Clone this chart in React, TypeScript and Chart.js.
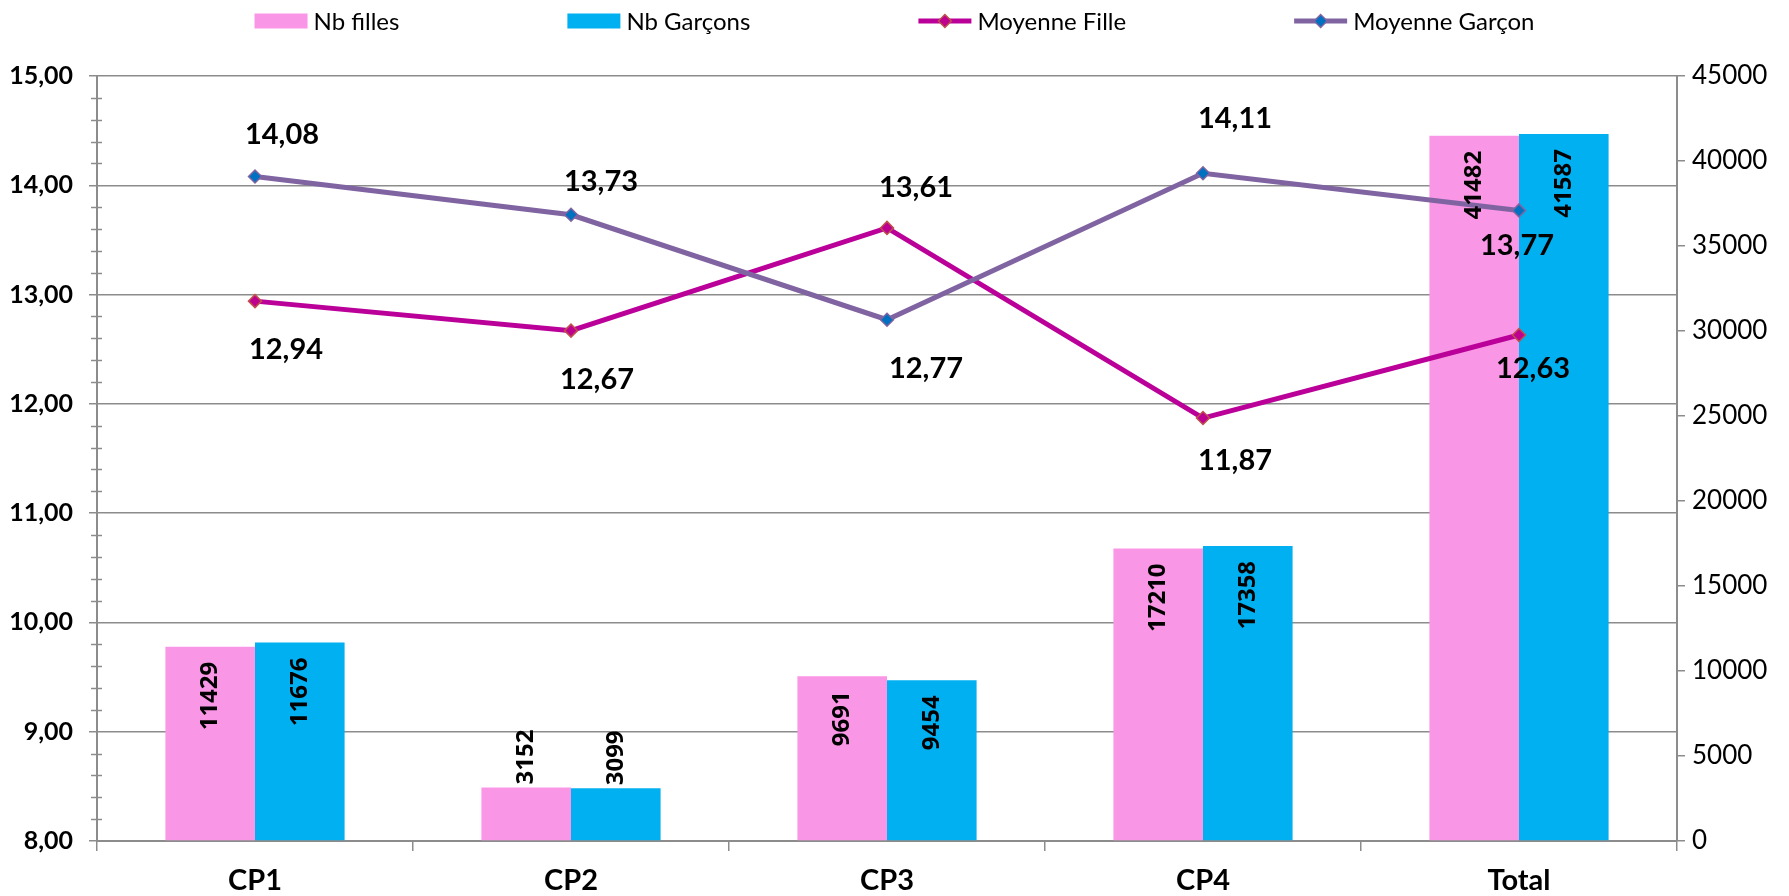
import React, { useEffect, useRef } from 'react';
import { Chart, registerables } from 'chart.js';

Chart.register(...registerables);

// ---- data ----
const categories = ['CP1', 'CP2', 'CP3', 'CP4', 'Total'];
const nbFilles = [11429, 3152, 9691, 17210, 41482];
const nbGarcons = [11676, 3099, 9454, 17358, 41587];
const moyenneFille = [12.94, 12.67, 13.61, 11.87, 12.63];
const moyenneGarcon = [14.08, 13.73, 12.77, 14.11, 13.77];
const leftAxisTicks = [8, 9, 10, 11, 12, 13, 14, 15];
const rightAxisTicks = [0, 5000, 10000, 15000, 20000, 25000, 30000, 35000, 40000, 45000];

// ---- label placement (layout only, pixel offsets from the point) ----
const filleLabelOffsets = [[31, 49], [26, 49], [29, -40], [32, 43], [14, 34]];
const garconLabelOffsets = [[27, -42], [30, -33], [39, 49], [32, -55], [-2, 35]];

const PINK = '#FA96E6';
const BLUE = '#00B0F0';
const MAGENTA = '#BA0099';
const PURPLE = '#8064A2';
const GRID = '#8C8C8C';
const FONT = 'Lato, "Liberation Sans", sans-serif';
const BAR_FONT = '"Noto Sans", "DejaVu Sans", sans-serif';

const fmtComma = (v: number) => v.toFixed(2).replace('.', ',');

const minorTicksPlugin = {
  id: 'minorTicks',
  afterDraw(chart: any) {
    const s = chart.scales.y;
    const ctx = chart.ctx;
    ctx.save();
    ctx.strokeStyle = GRID;
    ctx.lineWidth = 1.5;
    const min = leftAxisTicks[0];
    const max = leftAxisTicks[leftAxisTicks.length - 1];
    for (let i = 0; i <= (max - min) * 5; i++) {
      if (i % 5 === 0) continue;
      const v = min + i * 0.2;
      const y = Math.round(s.getPixelForValue(v)) + 0.5;
      ctx.beginPath();
      ctx.moveTo(s.right - 6, y);
      ctx.lineTo(s.right + 5, y);
      ctx.stroke();
    }
    ctx.restore();
  },
};

const dataLabelsPlugin = {
  id: 'dataLabels',
  afterDatasetsDraw(chart: any) {
    const ctx = chart.ctx;
    ctx.save();
    // bar labels
    ctx.font = `bold 24px ${BAR_FONT}`;
    ctx.fillStyle = '#000';
    [0, 1].forEach((di) => {
      const meta = chart.getDatasetMeta(di);
      const values = chart.data.datasets[di].data;
      meta.data.forEach((bar: any, i: number) => {
        const txt = String(values[i]);
        const w = ctx.measureText(txt).width;
        const h = bar.base - bar.y;
        ctx.save();
        ctx.textBaseline = 'middle';
        if (h > w + 24) {
          ctx.translate(bar.x, bar.y + 15);
          ctx.rotate(-Math.PI / 2);
          ctx.textAlign = 'right';
        } else {
          ctx.translate(bar.x, bar.y - 3);
          ctx.rotate(-Math.PI / 2);
          ctx.textAlign = 'left';
        }
        ctx.fillText(txt, 0, 0);
        ctx.restore();
      });
    });
    // line labels
    ctx.font = `bold 29px ${FONT}`;
    ctx.textAlign = 'center';
    ctx.textBaseline = 'middle';
    const lineSets: [number, number[][]][] = [
      [2, filleLabelOffsets],
      [3, garconLabelOffsets],
    ];
    lineSets.forEach(([di, offs]) => {
      const meta = chart.getDatasetMeta(di);
      const values = chart.data.datasets[di].data;
      meta.data.forEach((pt: any, i: number) => {
        ctx.fillText(fmtComma(values[i]), pt.x + offs[i][0], pt.y + offs[i][1]);
      });
    });
    ctx.restore();
  },
};

const legendPlugin = {
  id: 'customLegend',
  afterDraw(chart: any) {
    const ctx = chart.ctx;
    const ds = chart.data.datasets;
    ctx.save();
    ctx.font = `24px ${FONT}`;
    const sym = 53;
    const gapText = 6;
    const gapItem = 168;
    const widths = ds.map((d: any) => sym + gapText + ctx.measureText(d.label).width);
    const total = widths.reduce((a: number, b: number) => a + b, 0) + gapItem * (ds.length - 1);
    let x = chart.width / 2 - total / 2;
    const cy = 21;
    ds.forEach((d: any, i: number) => {
      if (d.type === 'line') {
        ctx.strokeStyle = d.borderColor;
        ctx.lineWidth = 5;
        ctx.beginPath();
        ctx.moveTo(x, cy);
        ctx.lineTo(x + sym, cy);
        ctx.stroke();
        const r = 6.5;
        const mx = x + sym / 2;
        ctx.beginPath();
        ctx.moveTo(mx - r, cy);
        ctx.lineTo(mx, cy - r);
        ctx.lineTo(mx + r, cy);
        ctx.lineTo(mx, cy + r);
        ctx.closePath();
        ctx.fillStyle = d.pointBackgroundColor;
        ctx.fill();
        ctx.lineWidth = 1.5;
        ctx.strokeStyle = d.pointBorderColor;
        ctx.stroke();
      } else {
        ctx.fillStyle = d.backgroundColor;
        ctx.fillRect(x, cy - 7.5, sym, 15);
      }
      ctx.fillStyle = '#000';
      ctx.textAlign = 'left';
      ctx.textBaseline = 'middle';
      ctx.fillText(d.label, x + sym + gapText, cy + 1);
      x += widths[i] + gapItem;
    });
    ctx.restore();
  },
};

export default function App() {
  const ref = useRef<HTMLCanvasElement>(null);

  useEffect(() => {
    if (!ref.current) return;
    const chart = new Chart(ref.current, {
      type: 'bar',
      data: {
        labels: categories,
        datasets: [
          {
            type: 'bar',
            label: 'Nb filles',
            data: nbFilles,
            backgroundColor: PINK,
            yAxisID: 'y2',
            order: 2,
            categoryPercentage: 0.567,
            barPercentage: 1,
          },
          {
            type: 'bar',
            label: 'Nb Garçons',
            data: nbGarcons,
            backgroundColor: BLUE,
            yAxisID: 'y2',
            order: 2,
            categoryPercentage: 0.567,
            barPercentage: 1,
          },
          {
            type: 'line',
            label: 'Moyenne Fille',
            data: moyenneFille,
            borderColor: MAGENTA,
            borderWidth: 5,
            pointStyle: 'rectRot',
            pointRadius: 6.5,
            pointBackgroundColor: '#BE0090',
            pointBorderColor: '#C0504D',
            pointBorderWidth: 1.5,
            yAxisID: 'y',
            order: 1,
            tension: 0,
          },
          {
            type: 'line',
            label: 'Moyenne Garçon',
            data: moyenneGarcon,
            borderColor: PURPLE,
            borderWidth: 5,
            pointStyle: 'rectRot',
            pointRadius: 6.5,
            pointBackgroundColor: '#0070C0',
            pointBorderColor: PURPLE,
            pointBorderWidth: 1.5,
            yAxisID: 'y',
            order: 0,
            tension: 0,
          },
        ] as any,
      },
      options: {
        responsive: false,
        animation: false,
        layout: { padding: { top: 76, left: 0, right: 0, bottom: 0 } },
        plugins: {
          legend: { display: false },
          tooltip: { enabled: false },
        },
        scales: {
          x: {
            offset: true,
            grid: {
              offset: true,
              drawOnChartArea: false,
              drawTicks: true,
              tickLength: 10,
              color: GRID,
              lineWidth: 1.5,
            },
            border: { display: true, color: GRID, width: 2 },
            ticks: {
              color: '#000',
              font: { family: FONT, size: 29, weight: 'bold' },
              padding: 12,
              maxRotation: 0,
            },
            afterFit: (s: any) => {
              s.height = 55;
            },
          },
          y: {
            position: 'left',
            min: leftAxisTicks[0],
            max: leftAxisTicks[leftAxisTicks.length - 1],
            afterBuildTicks: (s: any) => {
              s.ticks = leftAxisTicks.map((v) => ({ value: v }));
            },
            grid: {
              color: GRID,
              lineWidth: 1.5,
              drawTicks: true,
              tickLength: 8,
            },
            border: { display: true, color: GRID, width: 2 },
            ticks: {
              color: '#000',
              font: { family: FONT, size: 25, weight: 'bold' },
              padding: 16,
              callback: (v: any) => fmtComma(Number(v)),
            },
            afterFit: (s: any) => {
              s.width = 97;
            },
          },
          y2: {
            position: 'right',
            min: rightAxisTicks[0],
            max: rightAxisTicks[rightAxisTicks.length - 1],
            afterBuildTicks: (s: any) => {
              s.ticks = rightAxisTicks.map((v) => ({ value: v }));
            },
            grid: {
              drawOnChartArea: false,
              drawTicks: true,
              tickLength: 8,
              color: GRID,
              lineWidth: 1.5,
            },
            border: { display: true, color: GRID, width: 2 },
            ticks: {
              color: '#000',
              font: { family: FONT, size: 26 },
              padding: 7,
              callback: (v: any) => String(v),
            },
            afterFit: (s: any) => {
              s.width = 112;
            },
          },
        },
      } as any,
      plugins: [minorTicksPlugin, dataLabelsPlugin, legendPlugin],
    });
    return () => chart.destroy();
  }, []);

  return (
    <div style={{ position: 'fixed', left: 0, top: 0, width: 1789, height: 896, background: '#fff' }}>
      <canvas ref={ref} width={1789} height={896} style={{ display: 'block' }} />
    </div>
  );
}
